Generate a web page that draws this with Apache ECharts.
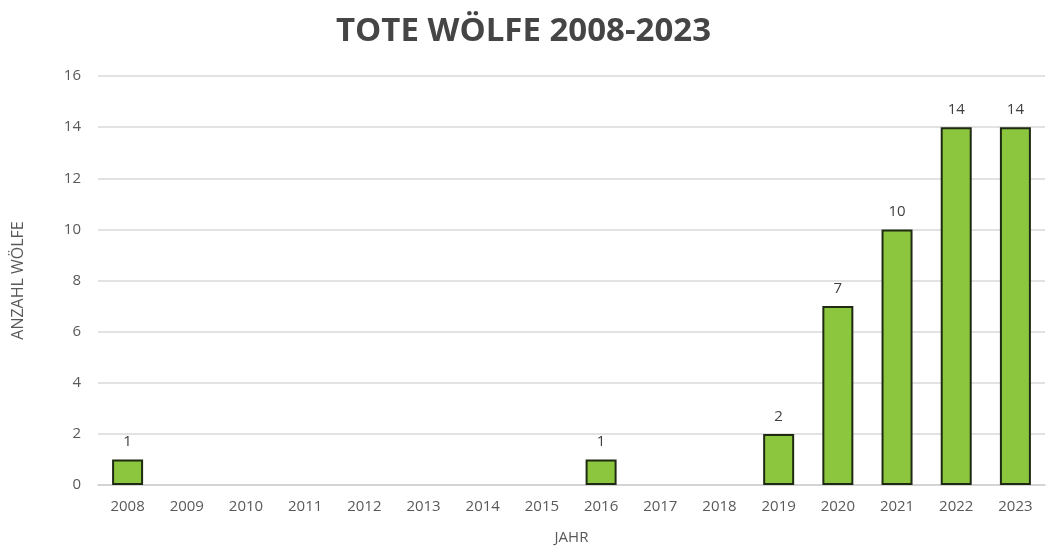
<!DOCTYPE html>
<html>
<head>
<meta charset="utf-8">
<script src="https://cdn.jsdelivr.net/npm/echarts@6/dist/echarts.min.js"></script>
<style>
  html, body { margin: 0; padding: 0; background: #ffffff; }
  #chart { width: 1047px; height: 550px; }
</style>
</head>
<body>
<div id="chart"></div>
<script>
// Jahre und Anzahl toter Wölfe pro Jahr
const years = ['2008', '2009', '2010', '2011', '2012', '2013', '2014', '2015',
               '2016', '2017', '2018', '2019', '2020', '2021', '2022', '2023'];
const deadWolves = [1, null, null, null, null, null, null, null,
                    1, null, null, 2, 7, 10, 14, 14];
const yTicks = { min: 0, max: 16, interval: 2 };

const chart = echarts.init(document.getElementById('chart'), null, { renderer: 'canvas' });
const fontFamily = '"Open Sans", "Liberation Sans", sans-serif';

chart.setOption({
  animation: false,
  backgroundColor: '#ffffff',
  title: {
    text: 'TOTE WÖLFE 2008-2023',
    left: 'center',
    top: 10,
    textStyle: {
      fontFamily: fontFamily,
      fontSize: 33,
      fontWeight: 'bold',
      color: '#454545'
    }
  },
  grid: {
    left: 98,
    right: 2,
    top: 76,
    bottom: 64,
    containLabel: false
  },
  xAxis: {
    type: 'category',
    data: years,
    name: 'JAHR',
    nameLocation: 'middle',
    nameGap: 45,
    nameTextStyle: { fontFamily: fontFamily, fontSize: 15, color: '#595959' },
    axisLine: { show: true, lineStyle: { color: '#d0d0d0', width: 1.5 } },
    axisTick: { show: false },
    axisLabel: { fontFamily: fontFamily, fontSize: 15, color: '#595959', margin: 14 }
  },
  yAxis: {
    type: 'value',
    min: yTicks.min,
    max: yTicks.max,
    interval: yTicks.interval,
    name: 'ANZAHL WÖLFE',
    nameLocation: 'middle',
    nameGap: 72,
    nameRotate: 90,
    nameTextStyle: { fontFamily: fontFamily, fontSize: 16, color: '#595959' },
    axisLine: { show: false },
    axisTick: { show: false },
    axisLabel: { fontFamily: fontFamily, fontSize: 15, color: '#595959', margin: 17 },
    splitLine: { lineStyle: { color: '#d9d9d9', width: 1.5 } }
  },
  series: [{
    type: 'bar',
    data: deadWolves,
    barWidth: 31,
    itemStyle: {
      color: '#8cc63f',
      borderColor: '#1e2a12',
      borderWidth: 2
    },
    label: {
      show: true,
      position: 'top',
      distance: 10,
      fontFamily: fontFamily,
      fontSize: 15,
      color: '#404040'
    }
  }]
});
</script>
</body>
</html>
